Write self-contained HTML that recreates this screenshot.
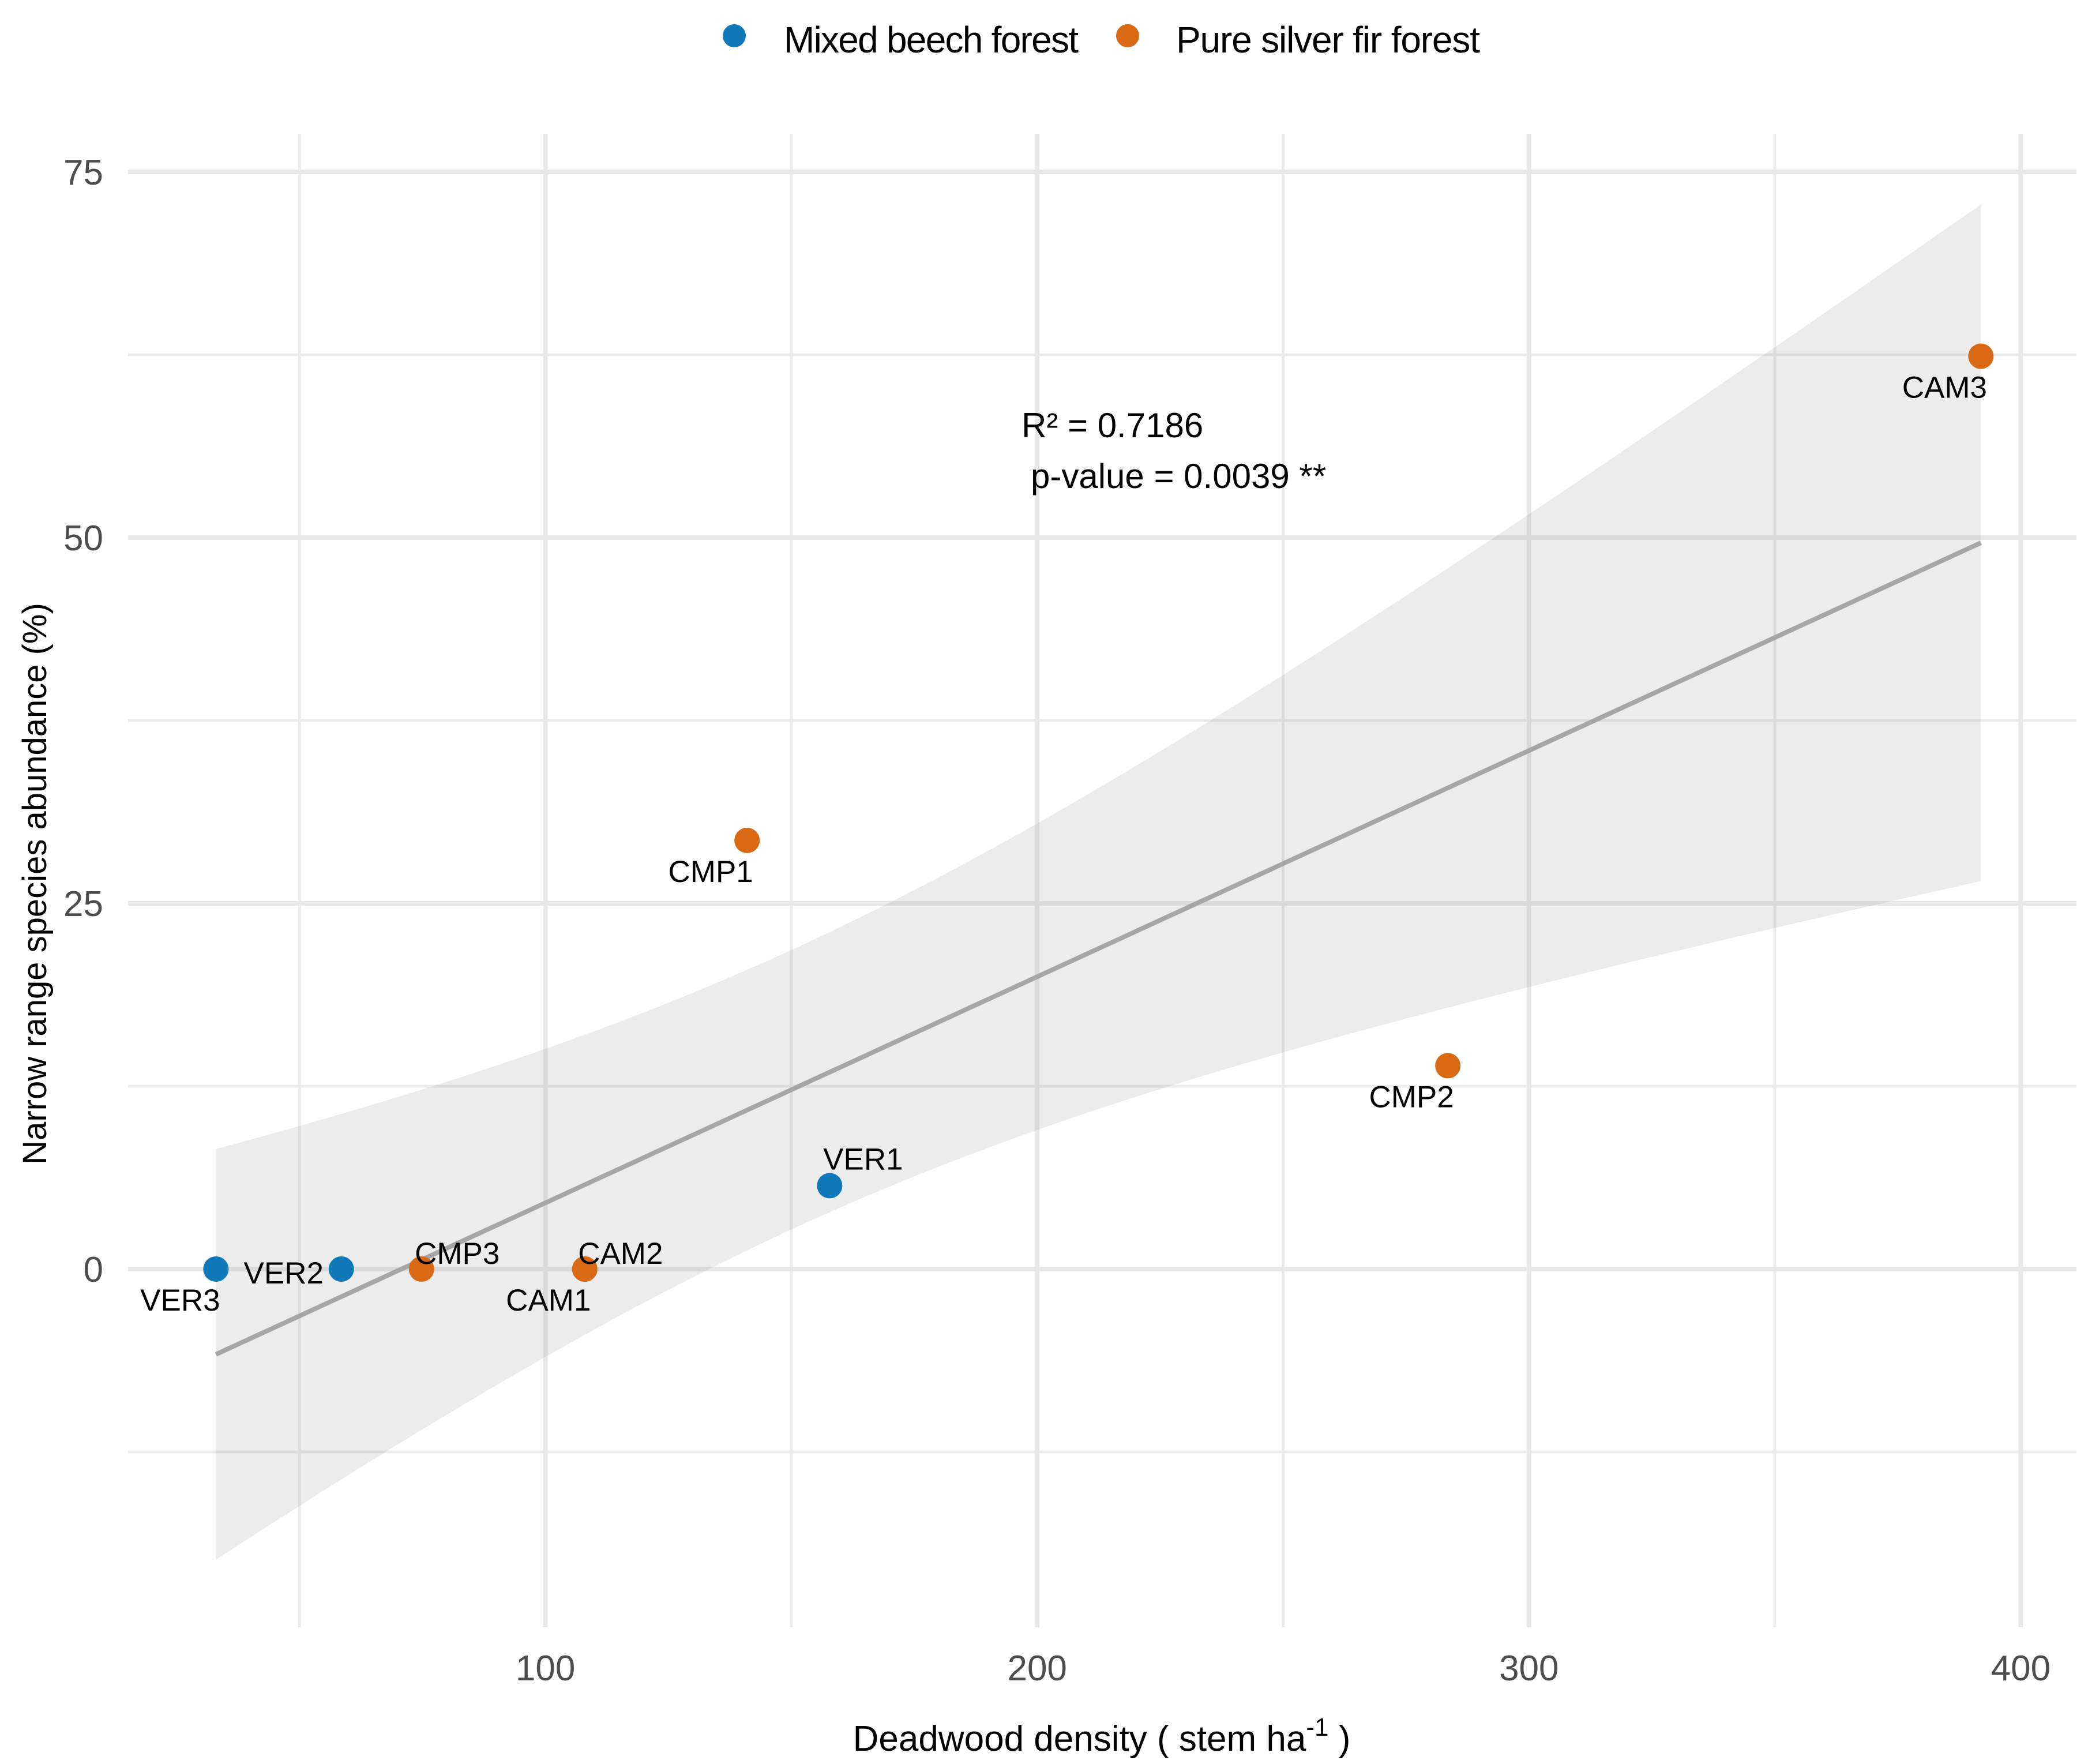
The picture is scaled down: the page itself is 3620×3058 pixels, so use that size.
<!DOCTYPE html>
<html><head><meta charset="utf-8"><style>
html,body{margin:0;padding:0;background:#fff;}
svg{display:block;font-family:"Liberation Sans",sans-serif;}
</style></head><body>
<svg id="chart" width="3620" height="3058" viewBox="0 0 3620 3058">
<g id="grid"></g>
<g id="band"></g>
<g id="marks"></g>
<g id="axes"></g>
<g>
  <circle cx="1273" cy="62" r="20" fill="#1279B8"/>
  <text x="1359" y="91" font-size="64" fill="#000" textLength="511">Mixed beech forest</text>
  <circle cx="1955" cy="62" r="20" fill="#D96915"/>
  <text x="2039" y="91" font-size="64" fill="#000" textLength="527">Pure silver fir forest</text>
</g>
<text x="1771" y="758" font-size="60" fill="#000">R² = 0.7186</text>
<text x="1787" y="846" font-size="60" fill="#000">p-value = 0.0039 **</text>
<text x="1910" y="3035" font-size="62" fill="#000" text-anchor="middle">Deadwood density ( stem ha<tspan dy="-26" font-size="44">-1</tspan><tspan dy="26"> )</tspan></text>
<text transform="translate(80,1532) rotate(-90)" font-size="58" fill="#000" text-anchor="middle">Narrow range species abundance (%)</text>
</svg>
<script>
const siteNames = ["VER3","VER2","CMP3","CAM1","CAM2","VER1","CMP1","CMP2","CAM3"];
const deadwood = [33,58.5,74.8,108,108,157.8,141,283.5,391.9];
const abundance = [0,0,0,0,0,5.7,29.3,13.9,62.4];
const forestType = ["beech","beech","fir","fir","fir","beech","fir","fir","fir"];
const xTicks = [100,200,300,400];
const xMinor = [50,150,250,350];
const yTicks = [0,25,50,75];
const yMinor = [-12.5,12.5,37.5,62.5];
// label offsets (pixels) relative to each point
const labelDX = [-62,-100,62,-63,62,58,-63,-63,-63];
const labelDY = [72,25,-9,72,-9,-28,72,72,72];

const NS="http://www.w3.org/2000/svg";
const X=v=>93+v*8.526, Y=v=>2200-v*25.36;
const L=222,R=3600,T=232,B=2821;
function mk(tag,attrs,parent){const e=document.createElementNS(NS,tag);for(const k in attrs)e.setAttribute(k,attrs[k]);parent.appendChild(e);return e;}
const grid=document.getElementById('grid'),band=document.getElementById('band'),marks=document.getElementById('marks'),axes=document.getElementById('axes');
yMinor.forEach(v=>{const e=mk('line',{x1:L,x2:R,y1:Y(v),y2:Y(v),stroke:'#ececec','stroke-width':5},grid);

});
xMinor.forEach(v=>{const e=mk('line',{x1:X(v),x2:X(v),y1:T,y2:B,stroke:'#ececec','stroke-width':5},grid);

});
yTicks.forEach(v=>{const e=mk('line',{x1:L,x2:R,y1:Y(v),y2:Y(v),stroke:'#e8e8e8','stroke-width':8},grid);


const t=mk('text',{x:179,y:Y(v)+22,'font-size':62,fill:'#4d4d4d','text-anchor':'end'},axes);t.textContent=v;

});
xTicks.forEach(v=>{const e=mk('line',{x1:X(v),x2:X(v),y1:T,y2:B,stroke:'#e8e8e8','stroke-width':8},grid);


const t=mk('text',{x:X(v),y:2913,'font-size':62,fill:'#4d4d4d','text-anchor':'middle'},axes);t.textContent=v;

});
// linear fit + 95% CI
const n=deadwood.length,mx=deadwood.reduce((a,b)=>a+b)/n,my=abundance.reduce((a,b)=>a+b)/n;
let sxx=0,sxy=0;deadwood.forEach((x,i)=>{sxx+=(x-mx)**2;sxy+=(x-mx)*(abundance[i]-my);});
const b1=sxy/sxx,b0=my-b1*mx;let sse=0;deadwood.forEach((x,i)=>{sse+=(abundance[i]-b0-b1*x)**2;});
const s=Math.sqrt(sse/(n-2)),tq=2.365;
const xmin=Math.min(...deadwood),xmax=Math.max(...deadwood);
let up=[],lo=[],ln=[];
for(let k=0;k<=80;k++){const x=xmin+(xmax-xmin)*k/80,f=b0+b1*x,h=tq*s*Math.sqrt(1/n+(x-mx)**2/sxx);
up.push(X(x)+','+Y(f+h));lo.push(X(x)+','+Y(f-h));ln.push(X(x)+','+Y(f));}
const poly=mk('polygon',{points:up.concat(lo.reverse()).join(' '),fill:'#999','fill-opacity':0.19},band);


const fl=mk('polyline',{points:ln.join(' '),fill:'none',stroke:'#a6a6a6','stroke-width':8},band);


deadwood.forEach((x,i)=>{
const c=mk('circle',{cx:X(x),cy:Y(abundance[i]),r:22,fill:forestType[i]==='beech'?'#1279B8':'#D96915'},marks);


const t=mk('text',{x:X(x)+labelDX[i],y:Y(abundance[i])+labelDY[i],'font-size':53,fill:'#000','text-anchor':'middle'},marks);
t.textContent=siteNames[i];


});
</script>
</body></html>
